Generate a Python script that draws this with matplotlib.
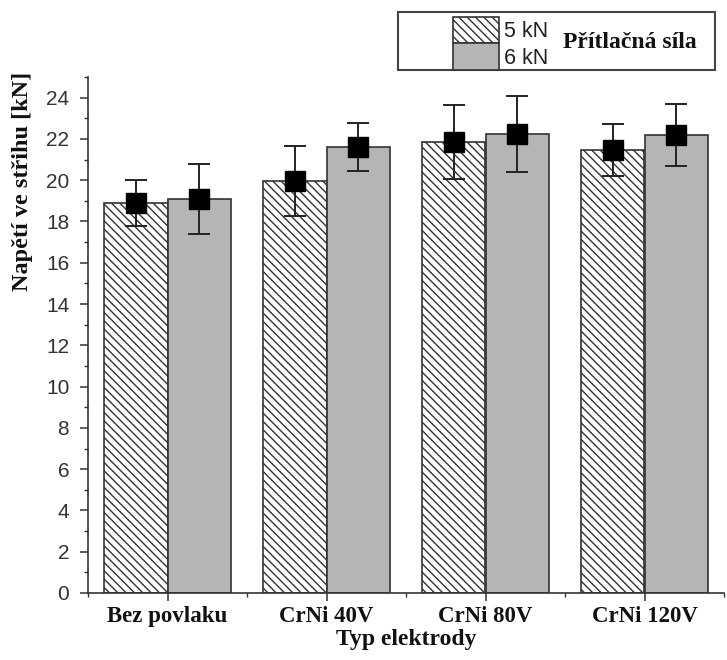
import matplotlib
matplotlib.use("Agg")
import matplotlib.pyplot as plt
import numpy as np
from matplotlib.patches import Rectangle
from matplotlib.ticker import MultipleLocator

categories = ["Bez povlaku", "CrNi 40V", "CrNi 80V", "CrNi 120V"]
vals_5kN = [18.9, 19.95, 21.85, 21.45]
err_5kN = [1.1, 1.7, 1.8, 1.25]
vals_6kN = [19.1, 21.6, 22.25, 22.2]
err_6kN = [1.7, 1.15, 1.85, 1.5]
series_labels = ["5 kN", "6 kN"]
legend_title = "Přítlačná síla"
ylabel = "Napětí ve střihu [kN]"
xlabel = "Typ elektrody"

plt.rcParams['hatch.linewidth'] = 1.0
plt.rcParams['hatch.color'] = '#333333'

fig = plt.figure(figsize=(7.27, 6.6), dpi=100)
ax = fig.add_axes([88/727, 67/660, 636/727, 516/660])

x = np.arange(len(categories))
w = 0.4
edge = '#333333'
b1 = ax.bar(x - w/2, vals_5kN, w, facecolor='white', edgecolor=edge, hatch='\\\\\\\\', linewidth=1.2, zorder=2)
b2 = ax.bar(x + w/2, vals_6kN, w, facecolor='#b5b5b5', edgecolor=edge, linewidth=1.2, zorder=2)

for xs, vs, es in [(x - w/2, vals_5kN, err_5kN), (x + w/2, vals_6kN, err_6kN)]:
    ax.errorbar(xs, vs, yerr=es, fmt='s', color='black', ecolor='#222222',
                markersize=15, elinewidth=1.4, capsize=8, capthick=1.4, zorder=3)

ax.set_xlim(-0.49, 3.455)
ax.set_ylim(0, 25)
ax.yaxis.set_major_locator(MultipleLocator(2))
ax.yaxis.set_minor_locator(MultipleLocator(1))
ax.set_xticks(x)
minor_x = np.arange(-0.5, 3.6, 0.5)
ax.set_xticks(minor_x[(minor_x % 1) != 0], minor=True)
ax.set_xticklabels(categories, fontfamily='Liberation Serif', fontweight='bold', fontsize=16.5, color='#111111')
for lab in ax.get_yticklabels():
    lab.set_fontfamily('Liberation Sans')
    lab.set_fontsize(15)
    lab.set_color('#333333')

for s in ['top', 'right']:
    ax.spines[s].set_visible(False)
for s in ['left', 'bottom']:
    ax.spines[s].set_color('#333333')
    ax.spines[s].set_linewidth(1.2)
ax.tick_params(which='major', length=5.5, width=1.1, color='#333333')
ax.tick_params(which='minor', length=3, width=1.0, color='#333333')
ax.tick_params(axis='x', which='major', pad=4)
ax.tick_params(axis='y', which='major', pad=8)

ax.set_xlabel(xlabel, fontfamily='Liberation Serif', fontweight='bold', fontsize=17, labelpad=1, color='#111111')
ax.set_ylabel(ylabel, fontfamily='Liberation Serif', fontweight='bold', fontsize=17.5, color='#111111')
ax.yaxis.set_label_coords(-0.087, 0.797)

# legend frame
fig.patches.append(Rectangle((398/727, 1 - 70/660), 317/727, 58/660, transform=fig.transFigure,
                             facecolor='white', edgecolor='#444444', linewidth=1.5, zorder=5))
leg = fig.legend([b1, b2], series_labels, loc='upper left', bbox_to_anchor=(453/727, 1 - 17/660),
                 frameon=False, handlelength=2.15, handleheight=1.5, labelspacing=0.0,
                 handletextpad=0.2, borderpad=0, borderaxespad=0,
                 prop={'family': 'Liberation Sans', 'size': 15.5})
leg.set_zorder(6)
for t in leg.get_texts():
    t.set_color('#222222')
fig.text(563/727, 1 - 42/660, legend_title, fontfamily='Liberation Serif', fontweight='bold',
         fontsize=17, va='center', ha='left', color='#111111', zorder=7)

fig.savefig('out.png', dpi=100)
